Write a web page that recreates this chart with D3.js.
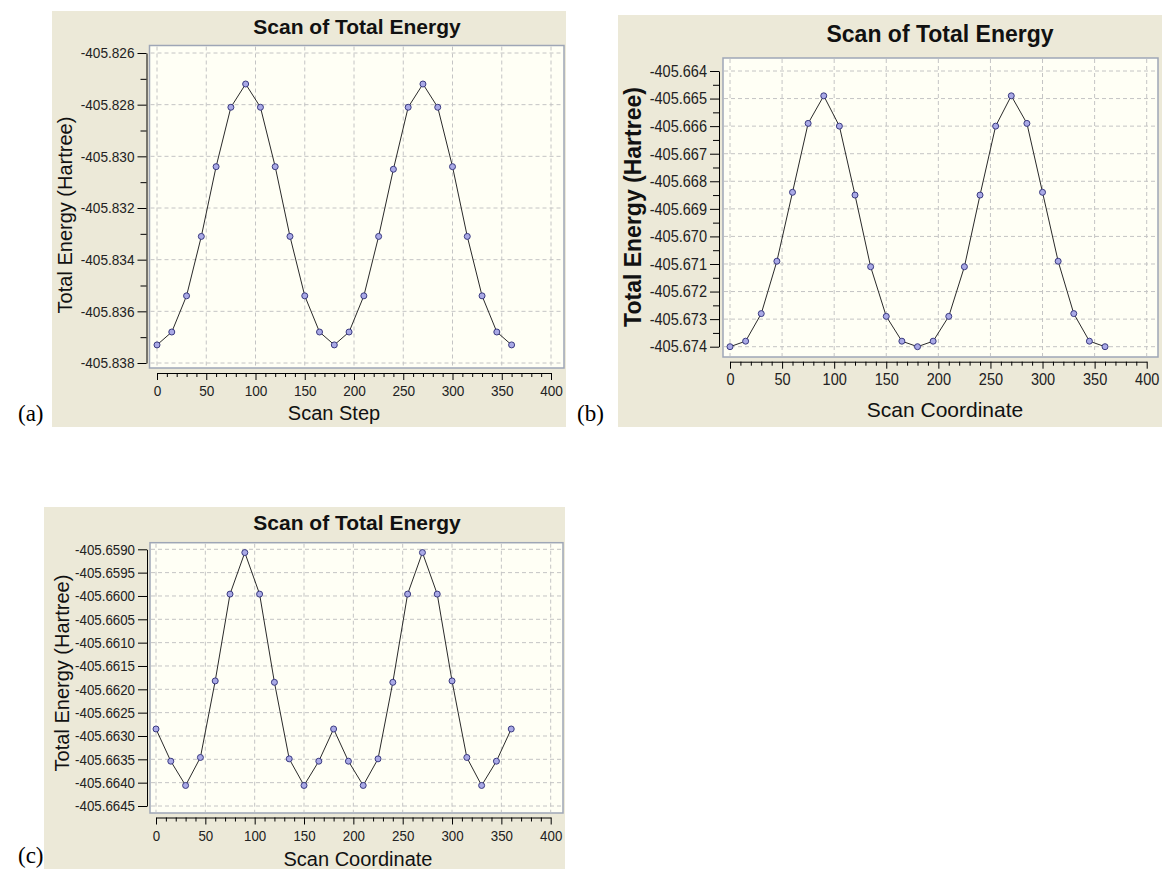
<!DOCTYPE html>
<html>
<head>
<meta charset="utf-8">
<script src="https://cdn.jsdelivr.net/npm/d3@7"></script>
<style>
  body { margin: 0; background: #fff; }
  svg { display: block; font-family: "Liberation Sans", Arial, sans-serif; }
</style>
</head>
<body>
<svg id="chart" width="1162" height="877"></svg>
<script>
// scan coordinate (degrees) shared by all three scans
const scanAngles = [0, 15, 30, 45, 60, 75, 90, 105, 120, 135, 150, 165, 180,
    195, 210, 225, 240, 255, 270, 285, 300, 315, 330, 345, 360];

// total energies (Hartree)
const energyA = [-405.8373, -405.8368, -405.8354, -405.8331, -405.8304, -405.8281, -405.8272,
    -405.8281, -405.8304, -405.8331, -405.8354, -405.8368, -405.8373, -405.8368, -405.8354,
    -405.8331, -405.8305, -405.8281, -405.8272, -405.8281, -405.8304, -405.8331, -405.8354,
    -405.8368, -405.8373];
const energyB = [-405.6740, -405.6738, -405.6728, -405.6709, -405.6684, -405.6659, -405.6649,
    -405.6660, -405.6685, -405.6711, -405.6729, -405.6738, -405.6740, -405.6738, -405.6729,
    -405.6711, -405.6685, -405.6660, -405.6649, -405.6659, -405.6684, -405.6709, -405.6728,
    -405.6738, -405.6740];
const energyC = [-405.66285, -405.66354, -405.66406, -405.66346, -405.66182, -405.65996, -405.65907,
    -405.65996, -405.66185, -405.66349, -405.66406, -405.66354, -405.66285, -405.66354, -405.66406,
    -405.66349, -405.66185, -405.65996, -405.65907, -405.65996, -405.66182, -405.66346, -405.66406,
    -405.66354, -405.66285];

// tick values
const xTicks = [0, 50, 100, 150, 200, 250, 300, 350, 400];
const xMinorTicks = [10, 20, 30, 40, 60, 70, 80, 90, 110, 120, 130, 140, 160, 170, 180, 190,
    210, 220, 230, 240, 260, 270, 280, 290, 310, 320, 330, 340, 360, 370, 380, 390];
const yTicksA = [-405.826, -405.828, -405.830, -405.832, -405.834, -405.836, -405.838];
const yMinorA = [-405.827, -405.829, -405.831, -405.833, -405.835, -405.837];
const yTicksB = [-405.664, -405.665, -405.666, -405.667, -405.668, -405.669, -405.670,
    -405.671, -405.672, -405.673, -405.674];
const yMinorB = [-405.6645, -405.6655, -405.6665, -405.6675, -405.6685, -405.6695,
    -405.6705, -405.6715, -405.6725, -405.6735];
const yTicksC = [-405.6590, -405.6595, -405.6600, -405.6605, -405.6610, -405.6615, -405.6620,
    -405.6625, -405.6630, -405.6635, -405.6640, -405.6645];
const yMinorC = [];

const chartTitle = "Scan of Total Energy";
const yTitle = "Total Energy (Hartree)";

const svg = d3.select("#chart");

// layout of each screenshot panel
const panels = [
    {label: "(a)", labelX: 18, labelY: 421, energy: energyA, yTicks: yTicksA, yMinor: yMinorA, dec: 3,
     xTitle: "Scan Step", bg: [52, 11, 566, 427], frame: [149.5, 45.5, 564, 368],
     x0: 157, x400: 551, yTop: 53, yBot: 363, xAxisY: 373, yAxisX: 146.5,
     titleX: 357, titleY: 34, titleSize: 21, yTitleX: 65, yTitleY: 215, yTitleSize: 20,
     yTitleWeight: "normal", xTitleX: 334, xTitleY: 420, xTitleSize: 20,
     tickSize: 15.5, squeeze: 0.88},
    {label: "(b)", labelX: 577, labelY: 421, energy: energyB, yTicks: yTicksB, yMinor: yMinorB, dec: 3,
     xTitle: "Scan Coordinate", bg: [618, 15, 1162, 427], frame: [723, 58, 1158, 357],
     x0: 730, x400: 1146.7, yTop: 71, yBot: 346.7, xAxisY: 361.7, yAxisX: 719,
     titleX: 940, titleY: 42, titleSize: 23, yTitleX: 633, yTitleY: 207, yTitleSize: 23,
     yTitleWeight: "bold", xTitleX: 945, xTitleY: 417, xTitleSize: 21,
     tickSize: 16.5, squeeze: 0.88},
    {label: "(c)", labelX: 18, labelY: 863, energy: energyC, yTicks: yTicksC, yMinor: yMinorC, dec: 4,
     xTitle: "Scan Coordinate", bg: [44, 507, 565, 869], frame: [150, 542.7, 563, 813],
     x0: 156, x400: 550.7, yTop: 549.3, yBot: 806, xAxisY: 817.5, yAxisX: 147,
     titleX: 357, titleY: 530, titleSize: 21, yTitleX: 62, yTitleY: 673, yTitleSize: 20,
     yTitleWeight: "normal", xTitleX: 358, xTitleY: 866, xTitleSize: 20,
     tickSize: 15.5, squeeze: 0.86}
];

function drawPanel(p) {
    let g = svg.append("g");
    let [bx0, by0, bx1, by1] = p.bg;
    let [fx0, fy0, fx1, fy1] = p.frame;

    g.append("rect")
        .attr("x", bx0).attr("y", by0)
        .attr("width", bx1 - bx0).attr("height", by1 - by0)
        .attr("fill", "#ece9d8");

    g.append("text")
        .attr("x", p.titleX).attr("y", p.titleY)
        .attr("text-anchor", "middle")
        .attr("font-size", p.titleSize)
        .attr("font-weight", "bold")
        .attr("fill", "#111")
        .text(chartTitle);

    // plot frame
    g.append("rect")
        .attr("x", fx0).attr("y", fy0)
        .attr("width", fx1 - fx0).attr("height", fy1 - fy0)
        .attr("fill", "#fffff5")
        .attr("stroke", "#9ea6b6")
        .attr("stroke-width", 1.5);

    let x = d3.scaleLinear().domain([0, 400]).range([p.x0, p.x400]);
    let y = d3.scaleLinear()
        .domain([p.yTicks[0], p.yTicks[p.yTicks.length - 1]])
        .range([p.yTop, p.yBot]);

    // dashed grid
    g.selectAll(".vgrid").data(xTicks).enter().append("line")
        .attr("x1", d => x(d)).attr("x2", d => x(d))
        .attr("y1", fy0 + 1).attr("y2", fy1 - 1)
        .attr("stroke", "#c4c4c4").attr("stroke-dasharray", "4,3");
    g.selectAll(".hgrid").data(p.yTicks).enter().append("line")
        .attr("x1", fx0 + 1).attr("x2", fx1 - 1)
        .attr("y1", d => y(d)).attr("y2", d => y(d))
        .attr("stroke", "#c4c4c4").attr("stroke-dasharray", "4,3");

    // x axis (major + minor)
    let xAxis = g.append("g")
        .attr("transform", "translate(0," + p.xAxisY + ")")
        .call(d3.axisBottom(x).tickValues(xTicks).tickSize(7).tickSizeOuter(0)
            .tickPadding(5).tickFormat(d => d.toString()));
    g.append("g")
        .attr("transform", "translate(0," + p.xAxisY + ")")
        .call(d3.axisBottom(x).tickValues(xMinorTicks).tickSize(4).tickFormat(""))
        .select(".domain").remove();

    // y axis (major + minor)
    let yAxis = g.append("g")
        .attr("transform", "translate(" + p.yAxisX + ",0)")
        .call(d3.axisLeft(y).tickValues(p.yTicks).tickSize(9).tickSizeOuter(0)
            .tickPadding(3).tickFormat(d => d.toFixed(p.dec)));
    g.append("g")
        .attr("transform", "translate(" + p.yAxisX + ",0)")
        .call(d3.axisLeft(y).tickValues(p.yMinor).tickSize(6).tickFormat(""))
        .select(".domain").remove();

    // the tick font of the original is tall and narrow
    [xAxis, yAxis].forEach(a => {
        a.attr("font-family", null).attr("font-size", p.tickSize);
        a.selectAll("text")
            .attr("fill", "#222")
            .attr("x", function() { return +d3.select(this).attr("x") / p.squeeze; })
            .attr("transform", "scale(" + p.squeeze + ",1)");
    });

    // the scan curve
    let line = d3.line()
        .x((d, i) => x(scanAngles[i]))
        .y(d => y(d));
    g.append("path")
        .datum(p.energy)
        .attr("d", line)
        .attr("fill", "none")
        .attr("stroke", "#2a2a2a")
        .attr("stroke-width", 1);

    g.selectAll(".pt").data(p.energy).enter().append("circle")
        .attr("cx", (d, i) => x(scanAngles[i]))
        .attr("cy", d => y(d))
        .attr("r", 3)
        .attr("fill", "#a9a9e6")
        .attr("stroke", "#3a3a80")
        .attr("stroke-width", 1);

    // axis titles
    g.append("text")
        .attr("transform", "translate(" + p.yTitleX + "," + p.yTitleY + ") rotate(-90)")
        .attr("text-anchor", "middle")
        .attr("dy", "0.35em")
        .attr("font-size", p.yTitleSize)
        .attr("font-weight", p.yTitleWeight)
        .attr("fill", "#111")
        .text(yTitle);
    g.append("text")
        .attr("x", p.xTitleX).attr("y", p.xTitleY)
        .attr("text-anchor", "middle")
        .attr("font-size", p.xTitleSize)
        .attr("fill", "#111")
        .text(p.xTitle);

    // (a) (b) (c)
    svg.append("text")
        .attr("x", p.labelX).attr("y", p.labelY)
        .attr("font-family", "'Liberation Serif', 'Times New Roman', serif")
        .attr("font-size", 23)
        .attr("fill", "#000")
        .text(p.label);
}

panels.forEach(drawPanel);
</script>
</body>
</html>
